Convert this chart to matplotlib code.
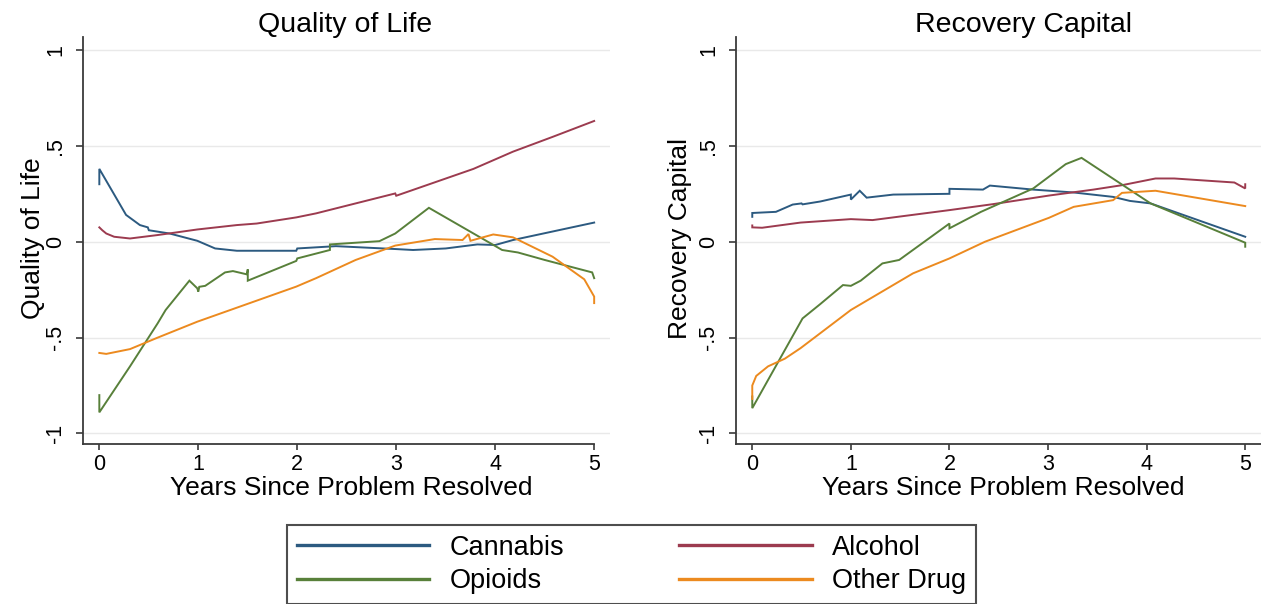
import matplotlib
matplotlib.use("Agg")
import matplotlib.pyplot as plt
from matplotlib.lines import Line2D

plt.rcParams["font.family"] = ["Liberation Sans", "DejaVu Sans"]

# ---- Quality of Life panel ----
qol_cannabis_x = [0, 0, 0.27, 0.41, 0.49, 0.5, 0.71, 0.99, 1.17, 1.39, 1.99, 2.0, 2.39, 2.99, 3.17, 3.5, 3.82, 4.0, 4.18, 5.0]
qol_cannabis_y = [0.30, 0.38, 0.14, 0.087, 0.075, 0.06, 0.043, 0.005, -0.035, -0.047, -0.047, -0.035, -0.023, -0.038, -0.043, -0.035, -0.014, -0.017, 0.009, 0.10]

qol_alcohol_x = [0, 0.03, 0.07, 0.15, 0.31, 0.59, 0.99, 1.39, 1.59, 1.99, 2.19, 2.59, 2.99, 3.0, 3.39, 3.78, 4.18, 4.58, 5.0]
qol_alcohol_y = [0.075, 0.06, 0.043, 0.026, 0.017, 0.035, 0.064, 0.087, 0.095, 0.127, 0.148, 0.20, 0.252, 0.24, 0.31, 0.38, 0.47, 0.547, 0.63]

qol_opioids_x = [0, 0, 0.31, 0.59, 0.67, 0.91, 0.99, 1.0, 1.01, 1.07, 1.27, 1.35, 1.49, 1.5, 1.5, 1.99, 2.0, 2.33, 2.33, 2.83, 2.99, 3.33, 4.07, 4.23, 4.5, 4.98, 5.0]
qol_opioids_y = [-0.80, -0.89, -0.65, -0.425, -0.356, -0.203, -0.243, -0.26, -0.235, -0.23, -0.16, -0.153, -0.17, -0.144, -0.203, -0.10, -0.087, -0.043, -0.014, 0.003, 0.043, 0.177, -0.043, -0.056, -0.095, -0.16, -0.19]

qol_other_x = [0, 0.07, 0.31, 0.59, 0.99, 1.99, 2.19, 2.59, 2.99, 3.39, 3.67, 3.73, 3.75, 3.98, 4.18, 4.58, 4.9, 5.0, 5.0]
qol_other_y = [-0.58, -0.585, -0.56, -0.50, -0.417, -0.234, -0.19, -0.095, -0.02, 0.014, 0.009, 0.04, 0.005, 0.038, 0.023, -0.078, -0.196, -0.286, -0.32]

# ---- Recovery Capital panel ----
rc_cannabis_x = [0, 0, 0.24, 0.41, 0.5, 0.51, 0.69, 1.0, 1.0, 1.09, 1.16, 1.43, 2.0, 2.0, 2.34, 2.41, 2.85, 3.26, 3.66, 3.83, 4.04, 5.0]
rc_cannabis_y = [0.13, 0.15, 0.156, 0.194, 0.20, 0.195, 0.21, 0.246, 0.22, 0.266, 0.23, 0.246, 0.25, 0.276, 0.272, 0.293, 0.272, 0.257, 0.234, 0.213, 0.20, 0.026]

rc_alcohol_x = [0, 0, 0.1, 0.49, 1.0, 1.22, 1.55, 2.0, 2.44, 3.01, 3.46, 3.75, 4.09, 4.28, 4.89, 5.0, 5.0]
rc_alcohol_y = [0.085, 0.075, 0.073, 0.10, 0.118, 0.113, 0.135, 0.165, 0.196, 0.241, 0.272, 0.295, 0.33, 0.33, 0.309, 0.278, 0.30]

rc_opioids_x = [0, 0, 0.51, 0.69, 0.92, 1.0, 1.1, 1.32, 1.49, 2.0, 2.0, 2.32, 2.85, 3.18, 3.34, 4.04, 5.0, 5.0]
rc_opioids_y = [-0.807, -0.868, -0.40, -0.325, -0.226, -0.23, -0.203, -0.113, -0.095, 0.095, 0.07, 0.156, 0.278, 0.405, 0.4375, 0.20, -0.005, -0.026]

rc_other_x = [0, 0, 0.04, 0.16, 0.33, 0.49, 1.0, 1.63, 2.0, 2.36, 3.01, 3.26, 3.66, 3.75, 4.09, 5.0]
rc_other_y = [-0.82, -0.75, -0.70, -0.65, -0.61, -0.555, -0.356, -0.165, -0.087, 0.0, 0.125, 0.182, 0.217, 0.255, 0.266, 0.186]

series_names = ["Cannabis", "Alcohol", "Opioids", "Other Drug"]
series_colors = ["#2c5a80", "#9c3b4f", "#58803a", "#ec8a1f"]

x_ticks = [0, 1, 2, 3, 4, 5]
y_ticks = [-1, -0.5, 0, 0.5, 1]
y_tick_labels = ["-1", "-.5", "0", ".5", "1"]

panels = [
    {
        "title": "Quality of Life",
        "ylabel": "Quality of Life",
        "series": [(qol_cannabis_x, qol_cannabis_y), (qol_alcohol_x, qol_alcohol_y),
                   (qol_opioids_x, qol_opioids_y), (qol_other_x, qol_other_y)],
    },
    {
        "title": "Recovery Capital",
        "ylabel": "Recovery Capital",
        "series": [(rc_cannabis_x, rc_cannabis_y), (rc_alcohol_x, rc_alcohol_y),
                   (rc_opioids_x, rc_opioids_y), (rc_other_x, rc_other_y)],
    },
]

W, H = 1261, 604
fig = plt.figure(figsize=(W / 100, H / 100), dpi=100)
fig.patch.set_facecolor("white")

# axes rectangles in pixels: left, bottom (from top), width
rects = [(83, 444, 527), (736, 444, 525)]
title_x = [0.497, 0.547]
ylabel_x = [-0.072, -0.083]
top_px = 37

for i, (panel, (lx, by, w)) in enumerate(zip(panels, rects)):
    ax = fig.add_axes([lx / W, (H - by) / H, w / W, (by - top_px) / H])
    ax.set_xlim(-0.165, 5.16)
    ax.set_ylim(-1.055, 1.068)
    for y in y_ticks:
        ax.axhline(y, color="#e9e9e9", lw=1.0, zorder=0)
    for (xs, ys), c in zip(panel["series"], series_colors):
        ax.plot(xs, ys, color=c, lw=1.4, solid_joinstyle="miter")
    for s in ["top", "right"]:
        ax.spines[s].set_visible(False)
    for s in ["left", "bottom"]:
        ax.spines[s].set_color("#3a3a3a")
        ax.spines[s].set_linewidth(1.3)
    if i == 0:
        ax.spines["bottom"].set_bounds(-0.165, 5.0)
    ax.set_xticks(x_ticks)
    ax.set_xticklabels([str(t) for t in x_ticks])
    ax.set_yticks(y_ticks)
    ax.set_yticklabels(y_tick_labels, rotation=90, va="center")
    ax.tick_params(axis="x", length=4.5, width=1.2, color="#3a3a3a", labelsize=15.5, pad=3)
    ax.tick_params(axis="y", length=5, width=1.2, color="#3a3a3a", labelsize=15.5, pad=7)
    ax.set_xlabel("Years Since Problem Resolved", fontsize=19)
    ax.xaxis.set_label_coords(0.509, -0.078)
    ax.set_ylabel(panel["ylabel"], fontsize=19)
    ax.yaxis.set_label_coords(ylabel_x[i], 0.505)
    ax.text(title_x[i], 1.012, panel["title"], transform=ax.transAxes,
            ha="center", va="baseline", fontsize=20.5)
    ax.set_facecolor("white")

handles = [Line2D([0], [0], color=c, lw=2.4) for c in series_colors]
order = [0, 2, 1, 3]
leg = fig.legend([handles[k] for k in order], [series_names[k] for k in order],
                 ncol=2, loc="center", mode="expand",
                 bbox_to_anchor=(287 / W, (H - 604.5) / H, (976 - 287) / W, 80 / H),
                 fontsize=19.5, handlelength=4.9, handletextpad=0.75,
                 labelspacing=0.28, borderpad=0.36,
                 borderaxespad=0, frameon=True, fancybox=False)
leg.get_frame().set_edgecolor("#222222")
leg.get_frame().set_linewidth(1.5)

fig.savefig("out.png", dpi=100, facecolor="white")
